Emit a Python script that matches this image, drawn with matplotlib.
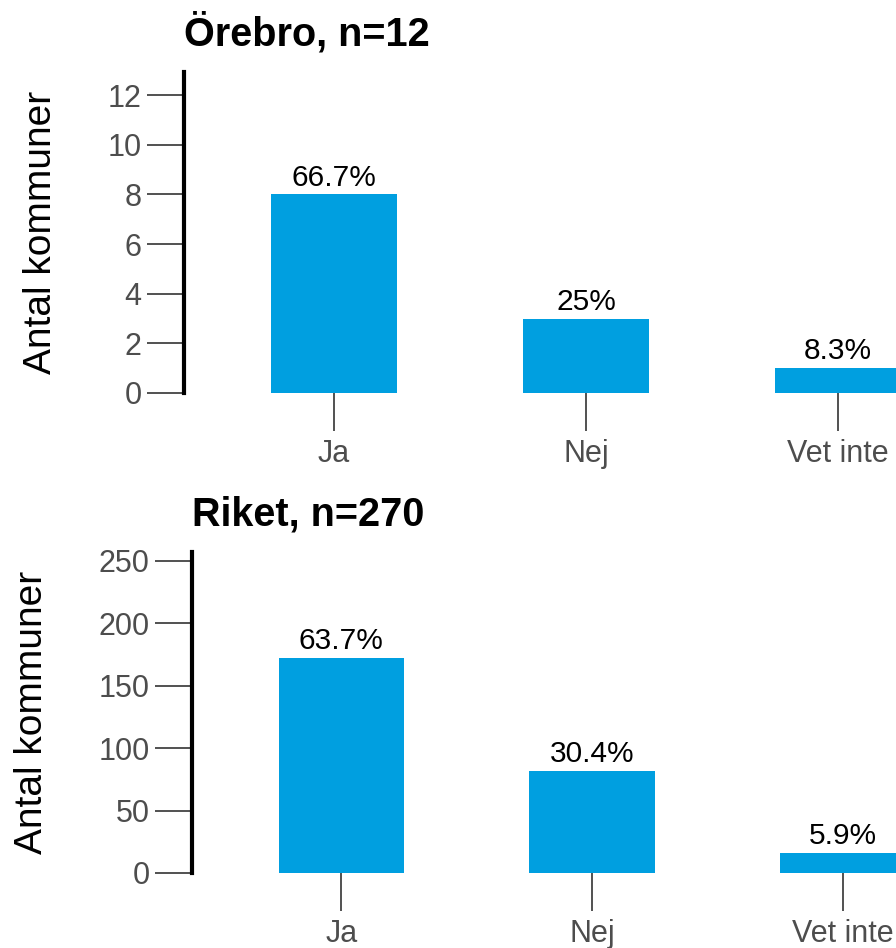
import matplotlib
matplotlib.use("Agg")
import matplotlib.pyplot as plt

plt.rcParams['font.family'] = ['Liberation Sans', 'DejaVu Sans']

categories = ["Ja", "Nej", "Vet inte"]
orebro_counts = [8, 3, 1]
riket_counts = [172, 82, 16]
orebro_title = "Örebro, n=12"
riket_title = "Riket, n=270"
orebro_ticks = [0, 2, 4, 6, 8, 10, 12]
riket_ticks = [0, 50, 100, 150, 200, 250]

bar_color = "#009fe0"

fig = plt.figure(figsize=(8.96, 9.48), dpi=100)
ax1 = fig.add_axes([184/896, 1-393/948, 804/896, 321/948])
ax2 = fig.add_axes([192/896, 1-873/948, 800/896, 321/948])


def panel(ax, counts, title, ticks, ytop):
    x = list(range(1, len(categories)+1))
    n = sum(counts)
    bars = ax.bar(x, counts, width=0.5, color=bar_color)
    labels = [f"{round(100*c/n, 1):g}%" for c in counts]
    ax.bar_label(bars, labels=labels, padding=2, fontsize=21.5, color="black")
    ax.set_xlim(0.405, 3.595)
    ax.set_ylim(0, ytop)
    ax.set_xticks(x)
    ax.set_xticklabels(categories)
    ax.set_yticks(ticks)
    for s in ["top", "right", "bottom"]:
        ax.spines[s].set_visible(False)
    ax.spines["left"].set_linewidth(3)
    ax.spines["left"].set_color("black")
    ax.tick_params(axis="both", length=27, width=1.2, color="#333333",
                   labelcolor="#4d4d4d", labelsize=22, pad=3.5)
    ax.tick_params(axis="x", pad=6)
    ax.set_ylabel("Antal kommuner", fontsize=28, color="black", labelpad=35)
    ax.set_title(title, loc="left", fontsize=28.5, fontweight="bold", pad=19)


panel(ax1, orebro_counts, orebro_title, orebro_ticks, 12.93)
panel(ax2, riket_counts, riket_title, riket_ticks, 257)

fig.savefig("out.png", dpi=100)
